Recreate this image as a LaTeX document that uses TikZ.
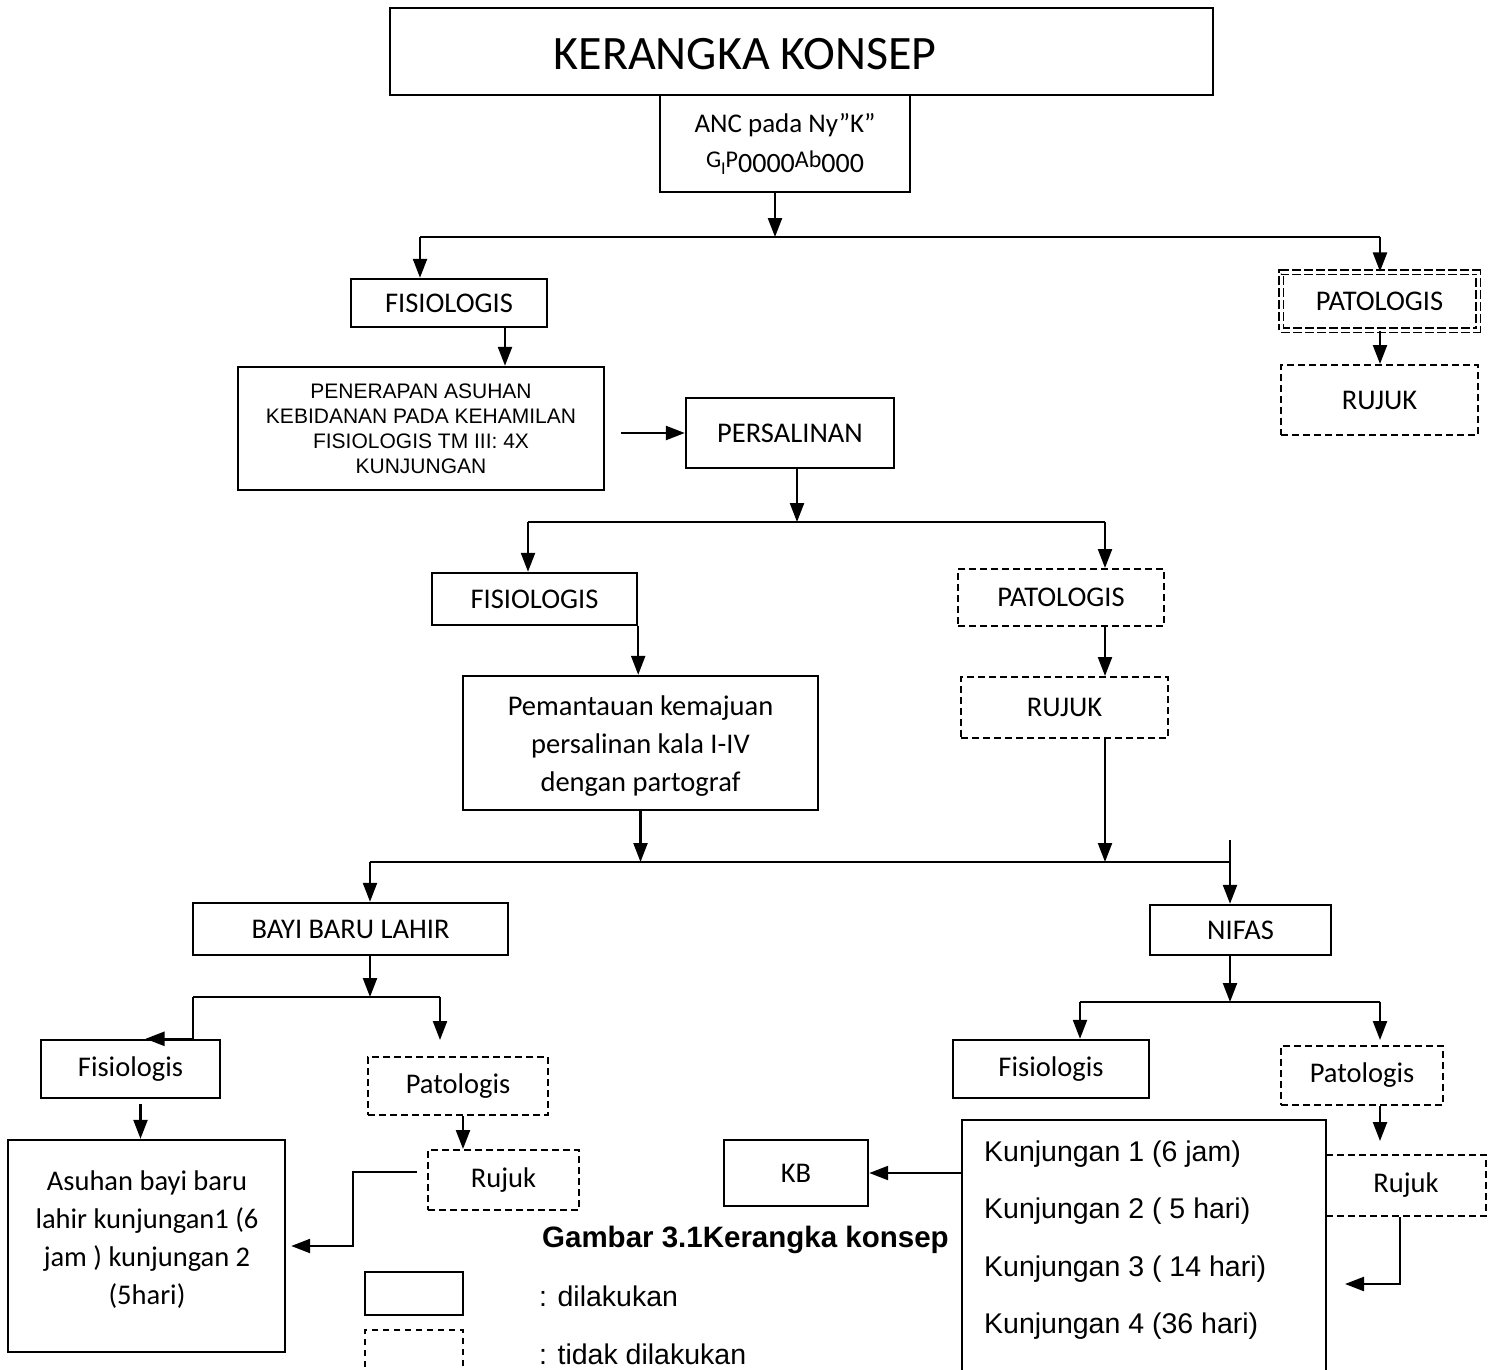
\documentclass[tikz,border=0pt]{standalone}
\usepackage{fontspec}
\setmainfont{Carlito}
\newfontfamily\arialfont{Liberation Sans}
\usepackage{tikz}
\usetikzlibrary{arrows.meta,calc}
\tikzset{
  every box/.style={
    rectangle,
    draw,
    line width=2.4pt,
    inner sep=0pt,
    align=center,
    font=\fontsize{28.5}{38}\selectfont
  },
  every dashbox/.style={
    every box,
    line width=2pt,
    dash pattern=on 7pt off 4pt
  },
  every doublebox/.style={
    every box,
    line width=1.1pt,
    double,
    double distance=3pt,
    dash pattern=on 9pt off 3pt
  },
  every bus/.style={
    line width=1.3pt
  }
}
\newcommand{\gip}{{\fontsize{24}{24}\selectfont\raisebox{5pt}{G}\raisebox{-2pt}{\fontsize{18}{18}\selectfont I}\raisebox{5pt}{P}{\fontsize{28}{28}\selectfont 0000}\raisebox{5pt}{Ab}{\fontsize{28}{28}\selectfont 000}}}

\begin{document}
\begin{tikzpicture}[x=1pt, y=-1pt, line width=2.3pt, >={Triangle[width=14pt,length=19pt]}]
  \useasboundingbox (0,0) rectangle (1494,1370);
  \clip (0,0) rectangle (1494,1370);

  % Node placement
  \node [every box, minimum width=823pt, minimum height=87pt] (T) at (801.5,51.5) {};
  \node [font=\fontsize{48}{58}\selectfont] (TT) at (745,54) {KERANGKA KONSEP};
  \node [every box, minimum width=250pt, minimum height=97pt, font=\fontsize{27}{40}\selectfont] (ANC) at (785,143.5) {ANC pada Ny”K”\\ \gip};

  \node [every box, minimum width=196pt, minimum height=48pt] (F1) at (449,303) {FISIOLOGIS};
  \node [every box, minimum width=366pt, minimum height=123pt, font=\arialfont\fontsize{21}{25}\selectfont] (PEN) at (421,428.5) {PENERAPAN ASUHAN\\KEBIDANAN PADA KEHAMILAN\\FISIOLOGIS TM III: 4X\\KUNJUNGAN};
  \node [every box, minimum width=208pt, minimum height=70pt] (PERS) at (790,433) {PERSALINAN};
  \node [every doublebox, minimum width=197pt, minimum height=58pt] (P1) at (1379.5,301) {PATOLOGIS};
  \node [every dashbox, minimum width=197pt, minimum height=70pt] (R1) at (1379.5,400) {RUJUK};

  \node [every box, minimum width=205pt, minimum height=52pt] (F2) at (534.5,599) {FISIOLOGIS};
  \node [every box, minimum width=355pt, minimum height=134pt] (PEM) at (640.5,743) {};
  \node (PEMT) at (640.5,746) [every box, draw=none] {Pemantauan kemajuan\\persalinan kala I-IV\\dengan partograf};
  \node [every dashbox, minimum width=206pt, minimum height=57pt] (P2) at (1061,597.5) {PATOLOGIS};
  \node [every dashbox, minimum width=207pt, minimum height=61pt] (R2) at (1064.5,707.5) {RUJUK};

  \node [every box, minimum width=315pt, minimum height=52pt] (BBL) at (350.5,929) {BAYI BARU LAHIR};
  \node [every box, minimum width=181pt, minimum height=50pt] (NIF) at (1240.5,930) {NIFAS};

  \node [every box, minimum width=179pt, minimum height=58pt] (F3) at (130.5,1069) {Fisiologis};
  \node [every dashbox, minimum width=180pt, minimum height=58pt] (P3) at (458,1086) {Patologis};
  \node [every box, minimum width=277pt, minimum height=212pt] (ASU) at (146.5,1246) {};
  \node (ASUT) at (147,1240) [every box, draw=none] {Asuhan bayi baru\\lahir kunjungan1 (6\\jam ) kunjungan 2\\(5hari)};
  \node [every dashbox, minimum width=151pt, minimum height=60pt] (R3) at (503.5,1180) {Rujuk};

  \node [every box, minimum width=196pt, minimum height=58pt] (F4) at (1051,1069) {Fisiologis};
  \node [every dashbox, minimum width=162pt, minimum height=59pt] (P4) at (1362,1075.5) {Patologis};
  \node [every dashbox, minimum width=160pt, minimum height=61pt] (R4) at (1406,1185.5) {Rujuk};
  \node [every box, minimum width=364pt, minimum height=260pt] (KUN) at (1144,1250) {};
  \node [anchor=west, inner sep=0pt, align=left, font=\arialfont\fontsize{28.5}{57.5}\selectfont] (KT) at (983,1240) {Kunjungan 1 (6 jam)\\Kunjungan 2 ( 5 hari)\\Kunjungan 3 ( 14 hari)\\Kunjungan 4 (36 hari)};
  \node [every box, minimum width=144pt, minimum height=66pt] (KB) at (796,1173) {KB};

  \node [anchor=west, inner sep=0pt, font=\arialfont\bfseries\fontsize{29.5}{34}\selectfont] (CAP) at (541,1240) {Gambar 3.1Kerangka konsep};
  \node [every box, line width=1.2pt, minimum width=98pt, minimum height=43pt] (LS) at (414,1293.5) {};
  \node [every dashbox, line width=1.2pt, dash pattern=on 6pt off 5pt, minimum width=98pt, minimum height=70pt] (LD) at (414,1365) {};
  \node [anchor=west, inner sep=0pt, font=\arialfont\fontsize{28.5}{34}\selectfont] (LT1) at (538,1296) {: dilakukan};
  \node [anchor=west, inner sep=0pt, font=\arialfont\fontsize{28.5}{34}\selectfont] (LT2) at (538,1354) {: tidak dilakukan};

  \coordinate (J1) at (775,237);
  \coordinate (J1L) at (420,237);
  \coordinate (J1R) at (1380,237);
  \coordinate (J2) at (797,522);
  \coordinate (J2L) at (528,522);
  \coordinate (J2R) at (1105,522);
  \coordinate (J3L) at (370,862);
  \coordinate (J3R) at (1230,862);
  \coordinate (J3T) at (1230,840);
  \coordinate (J4L) at (193,997);
  \coordinate (J4R) at (440,997);
  \coordinate (J5L) at (1080,1002);
  \coordinate (J5R) at (1380,1002);

  % Arrows
  \draw[->] (ANC.south -| J1) -- (J1);
  \draw[every bus] (J1L) -- (J1R);
  \draw[->] (J1L) -- (F1.north -| J1L);
  \draw[->] (J1R) -- (P1.north -| J1R);
  \draw[->] (F1.south -| 505,0) -- (PEN.north -| 505,0);
  \draw[->] (P1.south -| J1R) -- (R1.north -| J1R);
  \draw[->] ($(PEN.east |- PERS.west)+(16,0)$) -- (PERS.west);
  \draw[->] (PERS.south -| J2) -- (J2);
  \draw[every bus] (J2L) -- (J2R);
  \draw[->] (J2L) -- (F2.north -| J2L);
  \draw[->] (J2R) -- (P2.north -| J2R);
  \draw[->] (F2.south east) -- (PEM.north -| F2.south east);
  \draw[->] (P2.south -| J2R) -- (R2.north -| J2R);
  \draw[->] (PEM.south) -- (PEM.south |- J3L);
  \draw[->] (R2.south -| J2R) -- (J2R |- J3L);
  \draw[every bus] (J3L) -- (J3R);
  \draw[->] (J3T) -- (NIF.north -| J3T);
  \draw[->] (J3L) -- (BBL.north -| J3L);
  \draw[->] (BBL.south -| J3L) -- (J3L |- J4L);
  \draw[every bus] (J4L) -- (J4R);
  \draw[->] (J4L) |- ($(F3.north)+(15,0)$);
  \draw[->] (J4R) -- ++(0,43);
  \draw[->] ($(F3.south)+(10,5)$) -- ($(F3.south |- ASU.north)+(10,0)$);
  \draw[->] (P3.south -| 463,0) -- (R3.north -| 463,0);
  \draw[->] ($(R3.west)+(-10,-8)$) -- ++(-64,0) |- ($(ASU.east)+(5,0)$);
  \draw[->] (NIF.south -| J3R) -- (J3R |- J5L);
  \draw[every bus] (J5L) -- (J5R);
  \draw[->] (J5L) -- (F4.north -| J5L);
  \draw[->] (J5R) -- ++(0,38);
  \draw[->] (P4.south -| J5R) -- ++(0,35);
  \draw[->] (KUN.west |- KB.east) -- (KB.east);
  \draw[->] ($(R4.south)+(-6,0)$) -- ++(0,67) -- ++(-55,0);
\end{tikzpicture}
\end{document}
